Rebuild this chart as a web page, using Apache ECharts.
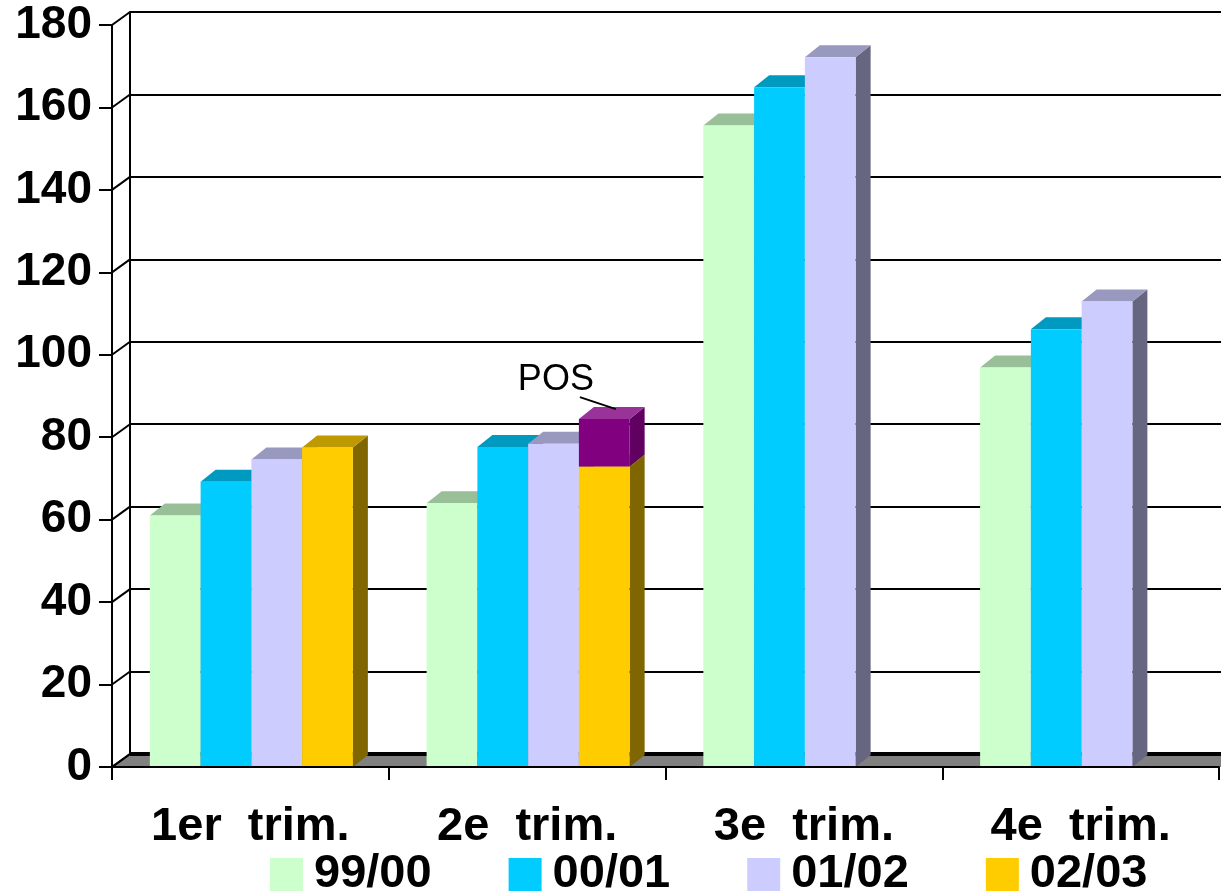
<!DOCTYPE html>
<html>
<head>
<meta charset="utf-8">
<script src="https://cdn.jsdelivr.net/npm/echarts@6/dist/echarts.min.js"></script>
<style>
html,body{margin:0;padding:0;background:#fff;}
#c{width:1221px;height:896px;}
</style>
</head>
<body>
<div id="c"></div>
<script>
// ---- data ----
var categories = ['1er  trim.', '2e  trim.', '3e  trim.', '4e  trim.'];
var seriesNames = ['99/00', '00/01', '01/02', '02/03'];
var s9900 = [61.0, 64.0, 155.6, 96.9];
var s0001 = [69.2, 77.6, 164.9, 106.2];
var s0102 = [74.6, 78.4, 172.2, 112.9];
var s0203 = [77.5, 72.9, null, null];
var posValues = [null, 11.5, null, null];
var posLabel = 'POS';
var yTicks = [0, 20, 40, 60, 80, 100, 120, 140, 160, 180];

// ---- styles ----
var FONT = "'Liberation Sans', Arial, sans-serif";
var faceColors = [
  {front:'#CCFFCC', top:'#99BF99', side:'#668066'},
  {front:'#00CCFF', top:'#0099BF', side:'#006680'},
  {front:'#CCCCFF', top:'#9999BF', side:'#666680'},
  {front:'#FFCC00', top:'#BF9900', side:'#806600'}
];
var posColors = {front:'#800080', top:'#993399', side:'#600060'};
var DX = 15, DY = -12;       // bar depth
var WX = 18, WY = -13;       // wall depth
var BAR_FRAC = 0.1834;

function toData(arr, baseArr) {
  var out = [];
  arr.forEach(function (v, i) {
    if (v != null) out.push([i, v, baseArr ? (baseArr[i] || 0) : 0]);
  });
  return out;
}

function barRender(slot, colors, withLabel) {
  return function (params, api) {
    var ci = api.value(0), v = api.value(1), base = api.value(2);
    var pb = api.coord([ci, base]);
    var pt = api.coord([ci, base + v]);
    var cw = api.size([1, 0])[0];
    var bw = cw * BAR_FRAC;
    var x0 = pb[0] - 2 * bw + slot * bw + 1;
    var x1 = x0 + bw;
    var yb = pb[1], yt = pt[1];
    var children = [
      {type:'polygon', shape:{points:[[x1,yt],[x1+DX,yt+DY],[x1+DX,yb+DY],[x1,yb]]}, style:{fill:colors.side}},
      {type:'polygon', shape:{points:[[x0,yt],[x0+DX,yt+DY],[x1+DX,yt+DY],[x1,yt]]}, style:{fill:colors.top}},
      {type:'rect', shape:{x:x0, y:yt, width:bw, height:yb-yt}, style:{fill:colors.front}}
    ];
    if (withLabel) {
      children.push({type:'line', shape:{x1:x0+1, y1:yt-22, x2:x0+37, y2:yt-10}, style:{stroke:'#000', lineWidth:2}});
      children.push({type:'text', style:{text:posLabel, x:x0-23, y:yt-39, textAlign:'center', textVerticalAlign:'middle', font:'36px ' + FONT, fill:'#000'}});
    }
    return {type:'group', children:children};
  };
}

var chart = echarts.init(document.getElementById('c'), null, {renderer:'canvas'});

var allSeries = [];
// back decorations: floor + left wall diagonals
allSeries.push({
  type:'custom', name:'floor', xAxisIndex:0, yAxisIndex:0, silent:true, z:1,
  data:[[0, 0]],
  renderItem:function (params, api) {
    var cs = params.coordSys;
    var yb = api.coord([0, 0])[1];
    var xl = cs.x, xr = cs.x + cs.width + 20;
    return {type:'group', children:[
      {type:'polygon', shape:{points:[[xl,yb],[xl+WX,yb+WY],[xr,yb+WY],[xr,yb]]}, style:{fill:'#808080'}},
      {type:'line', shape:{x1:xl+WX, y1:yb+WY, x2:xr, y2:yb+WY}, style:{stroke:'#000', lineWidth:4}},
      {type:'line', shape:{x1:xl, y1:yb, x2:xl+WX, y2:yb+WY}, style:{stroke:'#000', lineWidth:2}}
    ]};
  }
});
allSeries.push({
  type:'custom', name:'wall', xAxisIndex:0, yAxisIndex:0, silent:true, z:1,
  data:yTicks.map(function (t) { return [0, t]; }),
  renderItem:function (params, api) {
    var cs = params.coordSys;
    var y = api.coord([0, api.value(1)])[1];
    return {type:'line', shape:{x1:cs.x, y1:y, x2:cs.x+WX, y2:y+WY}, style:{stroke:'#000', lineWidth:2}};
  }
});

var seriesArrays = [s9900, s0001, s0102, s0203];
seriesArrays.forEach(function (arr, i) {
  allSeries.push({
    type:'custom', name:seriesNames[i], xAxisIndex:0, yAxisIndex:0, z:3,
    itemStyle:{color:faceColors[i].front},
    encode:{x:0, y:1},
    data:toData(arr),
    renderItem:barRender(i, faceColors[i], false)
  });
});
allSeries.push({
  type:'custom', name:'POS', xAxisIndex:0, yAxisIndex:0, z:3,
  itemStyle:{color:posColors.front},
  encode:{x:0, y:1},
  data:toData(posValues, s0203),
  renderItem:barRender(3, posColors, true)
});

var option = {
  backgroundColor:'#ffffff',
  animation:false,
  legend:{
    data:seriesNames.map(function (n) { return {name:n, icon:'rect'}; }),
    left:270, top:851, padding:0,
    itemWidth:33, itemHeight:33, itemGap:77,
    textStyle:{fontFamily:FONT, fontWeight:'bold', fontSize:47, color:'#000', padding:[0,0,0,6], lineHeight:47},
    selectedMode:false
  },
  grid:[
    {left:112, right:2, top:25, bottom:129},
    {left:130, right:0, top:12, bottom:142}
  ],
  xAxis:[
    {type:'category', gridIndex:0, data:categories, boundaryGap:true, z:10,
     axisLine:{show:true, lineStyle:{color:'#000', width:2}},
     axisTick:{show:true, length:13, inside:false, lineStyle:{color:'#000', width:2}},
     axisLabel:{fontFamily:FONT, fontWeight:'bold', fontSize:47, color:'#000', margin:37, interval:0},
     splitLine:{show:false}},
    {type:'category', gridIndex:1, data:categories, show:false}
  ],
  yAxis:[
    {type:'value', gridIndex:0, min:0, max:180, interval:20, z:10,
     axisLine:{show:true, lineStyle:{color:'#000', width:2}},
     axisTick:{show:true, length:13, lineStyle:{color:'#000', width:2}},
     axisLabel:{fontFamily:FONT, fontWeight:'bold', fontSize:46, color:'#000', margin:20},
     splitLine:{show:false}},
    {type:'value', gridIndex:1, min:0, max:180, interval:20, z:0,
     axisLine:{show:true, lineStyle:{color:'#000', width:2}},
     axisTick:{show:false}, axisLabel:{show:false},
     splitLine:{show:true, lineStyle:{color:'#000', width:2}}}
  ],
  series:allSeries
};
chart.setOption(option);
</script>
</body>
</html>
